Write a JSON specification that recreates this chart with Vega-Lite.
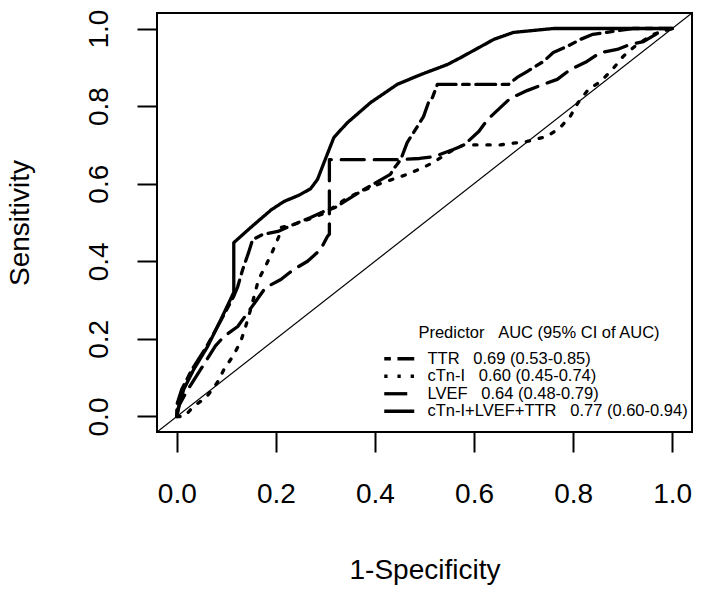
{
  "$schema": "https://vega.github.io/schema/vega-lite/v6.json",
  "width": 535,
  "height": 419,
  "autosize": "none",
  "padding": {"left": 157, "top": 13, "right": 11, "bottom": 165},
  "background": "white",
  "config": {
    "font": "Liberation Sans",
    "view": {"stroke": "black", "strokeWidth": 2},
    "axis": {
      "grid": false, "domain": false, "tickColor": "black", "tickWidth": 2, "tickSize": 20,
      "labelColor": "black", "titleColor": "black", "labelFont": "Liberation Sans", "titleFont": "Liberation Sans",
      "labelFontSize": 28, "titleFontSize": 28, "titleFontWeight": "normal", "labelOverlap": false, "labelFlush": false
    },
    "legend": {
      "orient": "none", "legendX": 234, "legendY": 312, "padding": 0,
      "titleFont": "Liberation Sans", "labelFont": "Liberation Sans",
      "titleFontSize": 16.5, "titleFontWeight": "normal", "titleColor": "black", "titleAnchor": "middle", "titlePadding": 9, "titleLimit": 600,
      "labelFontSize": 16.5, "labelColor": "black", "labelOffset": 20, "rowPadding": 0.5, "labelLimit": 600,
      "symbolType": "M-3,0H3", "symbolSize": 100, "symbolStrokeWidth": 3.3, "symbolStrokeColor": "black"
    }
  },
  "datasets": {
    "diag": [{"x": -0.04, "y": -0.04}, {"x": 1.04, "y": 1.04}],
    "roc": [
      {"s": "TTR", "i": 0, "x": 0, "y": 0},
      {"s": "TTR", "i": 1, "x": 0, "y": 0.03},
      {"s": "TTR", "i": 2, "x": 0.01, "y": 0.07},
      {"s": "TTR", "i": 3, "x": 0.03, "y": 0.12},
      {"s": "TTR", "i": 4, "x": 0.06, "y": 0.18},
      {"s": "TTR", "i": 5, "x": 0.09, "y": 0.25},
      {"s": "TTR", "i": 6, "x": 0.115, "y": 0.31},
      {"s": "TTR", "i": 7, "x": 0.123, "y": 0.335},
      {"s": "TTR", "i": 8, "x": 0.133, "y": 0.379},
      {"s": "TTR", "i": 9, "x": 0.145, "y": 0.423},
      {"s": "TTR", "i": 10, "x": 0.153, "y": 0.456},
      {"s": "TTR", "i": 11, "x": 0.173, "y": 0.469},
      {"s": "TTR", "i": 12, "x": 0.204, "y": 0.477},
      {"s": "TTR", "i": 13, "x": 0.236, "y": 0.495},
      {"s": "TTR", "i": 14, "x": 0.27, "y": 0.513},
      {"s": "TTR", "i": 15, "x": 0.3, "y": 0.53},
      {"s": "TTR", "i": 16, "x": 0.32, "y": 0.539},
      {"s": "TTR", "i": 17, "x": 0.371, "y": 0.58},
      {"s": "TTR", "i": 18, "x": 0.431, "y": 0.624},
      {"s": "TTR", "i": 19, "x": 0.44, "y": 0.642},
      {"s": "TTR", "i": 20, "x": 0.452, "y": 0.662},
      {"s": "TTR", "i": 21, "x": 0.465, "y": 0.706},
      {"s": "TTR", "i": 22, "x": 0.482, "y": 0.74},
      {"s": "TTR", "i": 23, "x": 0.498, "y": 0.773},
      {"s": "TTR", "i": 24, "x": 0.508, "y": 0.809},
      {"s": "TTR", "i": 25, "x": 0.516, "y": 0.822},
      {"s": "TTR", "i": 26, "x": 0.526, "y": 0.856},
      {"s": "TTR", "i": 27, "x": 0.67, "y": 0.856},
      {"s": "TTR", "i": 28, "x": 0.687, "y": 0.874},
      {"s": "TTR", "i": 29, "x": 0.707, "y": 0.889},
      {"s": "TTR", "i": 30, "x": 0.74, "y": 0.915},
      {"s": "TTR", "i": 31, "x": 0.76, "y": 0.938},
      {"s": "TTR", "i": 32, "x": 0.788, "y": 0.954},
      {"s": "TTR", "i": 33, "x": 0.815, "y": 0.972},
      {"s": "TTR", "i": 34, "x": 0.84, "y": 0.985},
      {"s": "TTR", "i": 35, "x": 0.868, "y": 0.99},
      {"s": "TTR", "i": 36, "x": 0.92, "y": 1.0},
      {"s": "TTR", "i": 37, "x": 1, "y": 1},

      {"s": "cTn-I", "i": 0, "x": 0, "y": 0},
      {"s": "cTn-I", "i": 1, "x": 0.015, "y": 0},
      {"s": "cTn-I", "i": 2, "x": 0.034, "y": 0.026},
      {"s": "cTn-I", "i": 3, "x": 0.06, "y": 0.05},
      {"s": "cTn-I", "i": 4, "x": 0.082, "y": 0.088},
      {"s": "cTn-I", "i": 5, "x": 0.095, "y": 0.121},
      {"s": "cTn-I", "i": 6, "x": 0.113, "y": 0.155},
      {"s": "cTn-I", "i": 7, "x": 0.129, "y": 0.193},
      {"s": "cTn-I", "i": 8, "x": 0.139, "y": 0.232},
      {"s": "cTn-I", "i": 9, "x": 0.149, "y": 0.276},
      {"s": "cTn-I", "i": 10, "x": 0.165, "y": 0.353},
      {"s": "cTn-I", "i": 11, "x": 0.179, "y": 0.387},
      {"s": "cTn-I", "i": 12, "x": 0.193, "y": 0.425},
      {"s": "cTn-I", "i": 13, "x": 0.206, "y": 0.464},
      {"s": "cTn-I", "i": 14, "x": 0.21, "y": 0.487},
      {"s": "cTn-I", "i": 15, "x": 0.236, "y": 0.495},
      {"s": "cTn-I", "i": 16, "x": 0.27, "y": 0.51},
      {"s": "cTn-I", "i": 17, "x": 0.3, "y": 0.525},
      {"s": "cTn-I", "i": 18, "x": 0.34, "y": 0.56},
      {"s": "cTn-I", "i": 19, "x": 0.371, "y": 0.58},
      {"s": "cTn-I", "i": 20, "x": 0.41, "y": 0.6},
      {"s": "cTn-I", "i": 21, "x": 0.465, "y": 0.624},
      {"s": "cTn-I", "i": 22, "x": 0.498, "y": 0.642},
      {"s": "cTn-I", "i": 23, "x": 0.518, "y": 0.655},
      {"s": "cTn-I", "i": 24, "x": 0.552, "y": 0.683},
      {"s": "cTn-I", "i": 25, "x": 0.579, "y": 0.7},
      {"s": "cTn-I", "i": 26, "x": 0.653, "y": 0.7},
      {"s": "cTn-I", "i": 27, "x": 0.707, "y": 0.709},
      {"s": "cTn-I", "i": 28, "x": 0.748, "y": 0.722},
      {"s": "cTn-I", "i": 29, "x": 0.774, "y": 0.745},
      {"s": "cTn-I", "i": 30, "x": 0.794, "y": 0.773},
      {"s": "cTn-I", "i": 31, "x": 0.81, "y": 0.809},
      {"s": "cTn-I", "i": 32, "x": 0.831, "y": 0.843},
      {"s": "cTn-I", "i": 33, "x": 0.855, "y": 0.863},
      {"s": "cTn-I", "i": 34, "x": 0.879, "y": 0.894},
      {"s": "cTn-I", "i": 35, "x": 0.901, "y": 0.928},
      {"s": "cTn-I", "i": 36, "x": 0.929, "y": 0.959},
      {"s": "cTn-I", "i": 37, "x": 0.962, "y": 0.985},
      {"s": "cTn-I", "i": 38, "x": 0.99, "y": 0.997},
      {"s": "cTn-I", "i": 39, "x": 1, "y": 1},

      {"s": "LVEF", "i": 0, "x": 0, "y": 0},
      {"s": "LVEF", "i": 1, "x": 0.005, "y": 0.03},
      {"s": "LVEF", "i": 2, "x": 0.02, "y": 0.065},
      {"s": "LVEF", "i": 3, "x": 0.05, "y": 0.125},
      {"s": "LVEF", "i": 4, "x": 0.078, "y": 0.182},
      {"s": "LVEF", "i": 5, "x": 0.095, "y": 0.206},
      {"s": "LVEF", "i": 6, "x": 0.123, "y": 0.232},
      {"s": "LVEF", "i": 7, "x": 0.15, "y": 0.28},
      {"s": "LVEF", "i": 8, "x": 0.179, "y": 0.332},
      {"s": "LVEF", "i": 9, "x": 0.21, "y": 0.353},
      {"s": "LVEF", "i": 10, "x": 0.236, "y": 0.379},
      {"s": "LVEF", "i": 11, "x": 0.264, "y": 0.4},
      {"s": "LVEF", "i": 12, "x": 0.29, "y": 0.43},
      {"s": "LVEF", "i": 13, "x": 0.304, "y": 0.464},
      {"s": "LVEF", "i": 14, "x": 0.308, "y": 0.47},
      {"s": "LVEF", "i": 15, "x": 0.308, "y": 0.662},
      {"s": "LVEF", "i": 16, "x": 0.45, "y": 0.662},
      {"s": "LVEF", "i": 17, "x": 0.49, "y": 0.665},
      {"s": "LVEF", "i": 18, "x": 0.52, "y": 0.67},
      {"s": "LVEF", "i": 19, "x": 0.558, "y": 0.688},
      {"s": "LVEF", "i": 20, "x": 0.58, "y": 0.7},
      {"s": "LVEF", "i": 21, "x": 0.61, "y": 0.735},
      {"s": "LVEF", "i": 22, "x": 0.627, "y": 0.765},
      {"s": "LVEF", "i": 23, "x": 0.653, "y": 0.796},
      {"s": "LVEF", "i": 24, "x": 0.673, "y": 0.82},
      {"s": "LVEF", "i": 25, "x": 0.707, "y": 0.84},
      {"s": "LVEF", "i": 26, "x": 0.74, "y": 0.856},
      {"s": "LVEF", "i": 27, "x": 0.768, "y": 0.869},
      {"s": "LVEF", "i": 28, "x": 0.794, "y": 0.894},
      {"s": "LVEF", "i": 29, "x": 0.828, "y": 0.915},
      {"s": "LVEF", "i": 30, "x": 0.855, "y": 0.938},
      {"s": "LVEF", "i": 31, "x": 0.889, "y": 0.946},
      {"s": "LVEF", "i": 32, "x": 0.915, "y": 0.959},
      {"s": "LVEF", "i": 33, "x": 0.942, "y": 0.966},
      {"s": "LVEF", "i": 34, "x": 0.976, "y": 0.992},
      {"s": "LVEF", "i": 35, "x": 1, "y": 1},

      {"s": "cTn-I+LVEF+TTR", "i": 0, "x": 0, "y": 0},
      {"s": "cTn-I+LVEF+TTR", "i": 1, "x": 0.002, "y": 0.018},
      {"s": "cTn-I+LVEF+TTR", "i": 2, "x": 0.014, "y": 0.07},
      {"s": "cTn-I+LVEF+TTR", "i": 3, "x": 0.034, "y": 0.121},
      {"s": "cTn-I+LVEF+TTR", "i": 4, "x": 0.062, "y": 0.18},
      {"s": "cTn-I+LVEF+TTR", "i": 5, "x": 0.089, "y": 0.25},
      {"s": "cTn-I+LVEF+TTR", "i": 6, "x": 0.115, "y": 0.32},
      {"s": "cTn-I+LVEF+TTR", "i": 7, "x": 0.115, "y": 0.448},
      {"s": "cTn-I+LVEF+TTR", "i": 8, "x": 0.149, "y": 0.487},
      {"s": "cTn-I+LVEF+TTR", "i": 9, "x": 0.19, "y": 0.532},
      {"s": "cTn-I+LVEF+TTR", "i": 10, "x": 0.216, "y": 0.554},
      {"s": "cTn-I+LVEF+TTR", "i": 11, "x": 0.246, "y": 0.57},
      {"s": "cTn-I+LVEF+TTR", "i": 12, "x": 0.27, "y": 0.587},
      {"s": "cTn-I+LVEF+TTR", "i": 13, "x": 0.284, "y": 0.611},
      {"s": "cTn-I+LVEF+TTR", "i": 14, "x": 0.297, "y": 0.654},
      {"s": "cTn-I+LVEF+TTR", "i": 15, "x": 0.317, "y": 0.719},
      {"s": "cTn-I+LVEF+TTR", "i": 16, "x": 0.344, "y": 0.757},
      {"s": "cTn-I+LVEF+TTR", "i": 17, "x": 0.391, "y": 0.809},
      {"s": "cTn-I+LVEF+TTR", "i": 18, "x": 0.445, "y": 0.856},
      {"s": "cTn-I+LVEF+TTR", "i": 19, "x": 0.492, "y": 0.881},
      {"s": "cTn-I+LVEF+TTR", "i": 20, "x": 0.546, "y": 0.907},
      {"s": "cTn-I+LVEF+TTR", "i": 21, "x": 0.573, "y": 0.925},
      {"s": "cTn-I+LVEF+TTR", "i": 22, "x": 0.64, "y": 0.972},
      {"s": "cTn-I+LVEF+TTR", "i": 23, "x": 0.68, "y": 0.99},
      {"s": "cTn-I+LVEF+TTR", "i": 24, "x": 0.76, "y": 1.0},
      {"s": "cTn-I+LVEF+TTR", "i": 25, "x": 1, "y": 1}
    ]
  },
  "layer": [
    {
      "data": {"name": "diag"},
      "mark": {"type": "line", "color": "black", "strokeWidth": 1.2, "clip": true},
      "encoding": {
        "x": {"field": "x", "type": "quantitative"},
        "y": {"field": "y", "type": "quantitative"}
      }
    },
    {
      "data": {"name": "roc"},
      "mark": {"type": "line", "color": "black", "strokeWidth": 3.3, "strokeCap": "round", "strokeJoin": "round"},
      "encoding": {
        "x": {
          "field": "x", "type": "quantitative",
          "scale": {"domain": [-0.04, 1.04], "nice": false, "zero": false},
          "axis": {"values": [0, 0.2, 0.4, 0.6, 0.8, 1], "format": ".1f", "title": "1-Specificity",
                   "labelPadding": 28, "titleY": 146, "titleBaseline": "alphabetic"}
        },
        "y": {
          "field": "y", "type": "quantitative",
          "scale": {"domain": [-0.04, 1.04], "nice": false, "zero": false},
          "axis": {"values": [0, 0.2, 0.4, 0.6, 0.8, 1], "format": ".1f", "title": "Sensitivity",
                   "labelAngle": 270, "labelAlign": "center", "labelBaseline": "alphabetic", "labelPadding": 30,
                   "titleAngle": 270, "titleX": -129, "titleBaseline": "alphabetic"}
        },
        "strokeDash": {
          "field": "s", "type": "nominal",
          "scale": {"domain": ["TTR", "cTn-I", "LVEF", "cTn-I+LVEF+TTR"],
                    "range": [[6.6, 6.6, 19.8, 6.6], [3.3, 9.9], [23, 10], [1, 0]]},
          "legend": {
            "title": "Predictor\u00a0\u00a0\u00a0AUC (95% CI of AUC)",
            "labelExpr": "datum.label == 'TTR' ? 'TTR\u00a0\u00a0\u00a00.69 (0.53-0.85)' : datum.label == 'cTn-I' ? 'cTn-I\u00a0\u00a0\u00a00.60 (0.45-0.74)' : datum.label == 'LVEF' ? 'LVEF\u00a0\u00a0\u00a00.64 (0.48-0.79)' : 'cTn-I+LVEF+TTR\u00a0\u00a0\u00a00.77 (0.60-0.94)'",
            "symbolStrokeWidth": 3.3
          }
        },
        "order": {"field": "i", "type": "quantitative"}
      }
    }
  ]
}
